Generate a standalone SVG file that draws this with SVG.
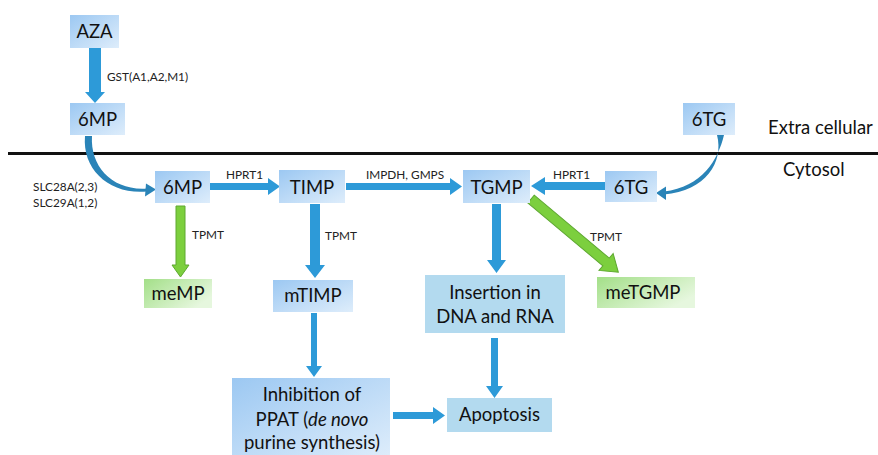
<svg xmlns="http://www.w3.org/2000/svg" width="878" height="455" viewBox="0 0 878 455">
<defs>
<linearGradient id="gBlue" x1="0" y1="0" x2="1" y2="1">
<stop offset="0" stop-color="#9cc8f2"/>
<stop offset="1" stop-color="#deedfb"/>
</linearGradient>
<linearGradient id="gGreen" x1="0" y1="0" x2="1" y2="0.6">
<stop offset="0" stop-color="#a3df88"/>
<stop offset="1" stop-color="#e6f7de"/>
</linearGradient>
<style>
.box{fill:url(#gBlue);}
.flat{fill:#b3daef;}
.gbox{fill:url(#gGreen);}
.lbl{font-family:Lato,"Liberation Sans",sans-serif;font-size:18.5px;fill:#111;text-anchor:middle;}
.sm{font-family:Lato,"Liberation Sans",sans-serif;font-size:11.8px;fill:#222;}
.big{font-family:Lato,"Liberation Sans",sans-serif;font-size:18.5px;fill:#111;}
.ba{fill:#2d9ad8;}
.ga{fill:#7ccf3e;stroke:#5ea830;stroke-width:1;}
.curve{fill:#2a84b8;}
</style>
</defs>

<line x1="8" y1="153.5" x2="878" y2="153.5" stroke="#111" stroke-width="3"/>
<text class="big" x="768" y="134">Extra cellular</text>
<text class="big" x="783" y="176">Cytosol</text>

<g id="connectors">
<path class="ba" d="M89,48 H101 V92 H105 L95,103 L85,92 H89 Z"/>
<path class="ba" d="M210,183 H268 V178 L280,186.5 L268,195 V190 H210 Z"/>
<path class="ba" d="M346,183 H450 V178 L462,186.5 L450,195 V190 H346 Z"/>
<path class="ba" d="M605,182 H545 V177 L531,186 L545,195 V190 H605 Z"/>
<path class="ba" d="M310,204 H320 V265 H325 L315,278 L305,265 H310 Z"/>
<path class="ba" d="M492,204 H501 V260 H506 L496.5,273 L487,260 H492 Z"/>
<path class="ba" d="M311,313 H317 V366 H322 L314,377 L306,366 H311 Z"/>
<path class="ba" d="M491,338 H498 V386 H503 L494.5,398 L486,386 H491 Z"/>
<path class="ba" d="M393,412 H433 V407 L445,415.5 L433,424 V419 H393 Z"/>
<path class="ga" d="M176,206 H185 V265 H189 L180.5,277 L172,265 H176 Z"/>
<path class="ga" transform="translate(531,199) rotate(40)" d="M0,-5 H98 V-11 L114,0 L98,11 V5 H0 Z"/>
<path class="curve" d="M85,136 C82,170 110,195 147,191.5 L147,188.5 C113,191 90,167 92,136 Z"/>
<path class="curve" d="M146,183.5 L156,189.5 L145,196.5 Z"/>
<path class="curve" d="M717,135 C724,162 706,191 664,194.5 L664,191.5 C702,187 718,160 724,135 Z"/>
<path class="curve" d="M666,186.5 L656,193 L666,200 Z"/>
<text class="sm" x="107" y="81">GST(A1,A2,M1)</text>
<text class="sm" x="33" y="191">SLC28A(2,3)</text>
<text class="sm" x="33" y="207">SLC29A(1,2)</text>
<text class="sm" x="226" y="179">HPRT1</text>
<text class="sm" x="366" y="179">IMPDH, GMPS</text>
<text class="sm" x="553" y="179">HPRT1</text>
<text class="sm" x="192" y="239">TPMT</text>
<text class="sm" x="325" y="240">TPMT</text>
<text class="sm" x="590" y="241">TPMT</text>
</g>

<g id="AZA"><rect class="box" x="70" y="15" width="49" height="33"/><text class="lbl" x="94.5" y="38">AZA</text></g>
<g id="MP6_ext"><rect class="box" x="70" y="103" width="55" height="32"/><text class="lbl" x="97.5" y="125.5">6MP</text></g>
<g id="TG6_ext"><rect class="box" x="683" y="103" width="52" height="32"/><text class="lbl" x="709" y="125.5">6TG</text></g>
<g id="MP6"><rect class="box" x="155" y="171" width="55" height="32"/><text class="lbl" x="182.5" y="193.5">6MP</text></g>
<g id="TIMP"><rect class="box" x="279" y="170" width="66" height="33"/><text class="lbl" x="312" y="193.5">TIMP</text></g>
<g id="TGMP"><rect class="box" x="463" y="170" width="67" height="33"/><text class="lbl" x="496.5" y="193.5">TGMP</text></g>
<g id="TG6"><rect class="box" x="605" y="171" width="52" height="31"/><text class="lbl" x="631" y="193.5">6TG</text></g>
<g id="meMP"><rect class="gbox" x="144" y="279" width="68" height="29"/><text class="lbl" x="178" y="300">meMP</text></g>
<g id="mTIMP"><rect class="box" x="273" y="280" width="80" height="32"/><text class="lbl" x="313" y="302">mTIMP</text></g>
<g id="meTGMP"><rect class="gbox" x="597" y="277" width="98" height="31"/><text class="lbl" x="643" y="299">meTGMP</text></g>
<g id="insertion"><rect class="flat" x="425" y="275" width="140" height="58"/><text class="lbl" x="495" y="299">Insertion in</text><text class="lbl" x="495" y="323">DNA and RNA</text></g>
<g id="apoptosis"><rect class="flat" x="447" y="398" width="105" height="34"/><text class="lbl" x="499.5" y="421">Apoptosis</text></g>
<g id="inhibition"><rect class="box" x="232" y="378" width="158" height="80"/><text class="lbl" x="312" y="401">Inhibition of</text><text class="lbl" x="312" y="426">PPAT (<tspan font-style="italic">de novo</tspan></text><text class="lbl" x="312" y="449">purine synthesis)</text></g>
</svg>
